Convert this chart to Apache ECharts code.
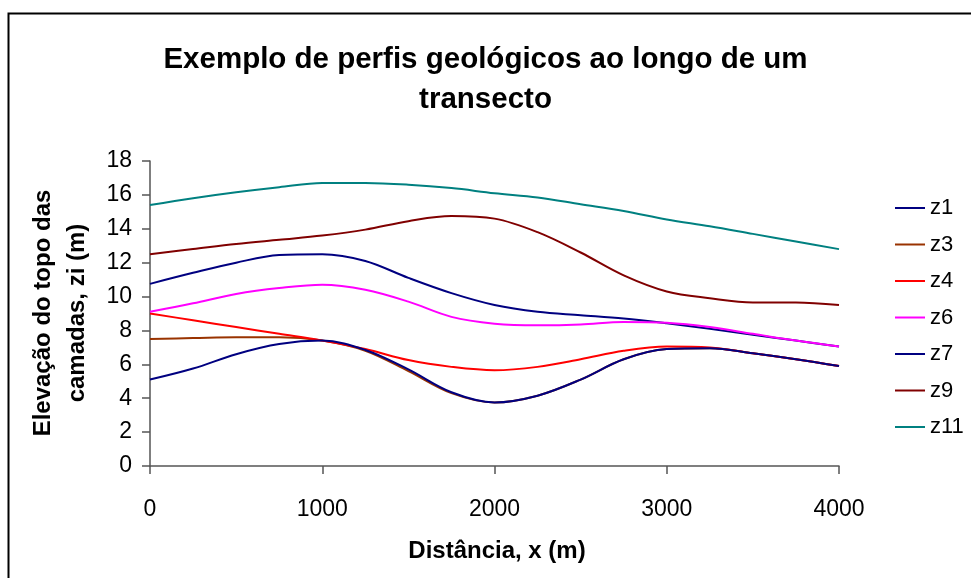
<!DOCTYPE html>
<html>
<head>
<meta charset="utf-8">
<script src="https://cdn.jsdelivr.net/npm/echarts@6/dist/echarts.min.js"></script>
<style>
  html, body { margin: 0; padding: 0; background: #fff; }
  #chart { width: 971px; height: 578px; }
</style>
</head>
<body>
<div id="chart"></div>
<script>
// Distance along the transect (m)
const distancias = [0, 250, 500, 750, 1000, 1250, 1500, 1750, 2000, 2250, 2500, 2750, 3000, 3250, 3500, 3750, 4000];

// Top elevation of each layer (m)
const z1  = [10.75, 11.4, 12.0, 12.45, 12.5, 12.1, 11.1, 10.2, 9.5, 9.1, 8.9, 8.7, 8.42, 8.1, 7.75, 7.4, 7.05];
const z3  = [7.5, 7.55, 7.6, 7.6, 7.4, 6.8, 5.6, 4.3, 3.75, 4.15, 5.1, 6.3, 6.9, 6.95, 6.65, 6.3, 5.9];
const z4  = [9.0, 8.6, 8.2, 7.8, 7.4, 6.9, 6.25, 5.85, 5.65, 5.85, 6.3, 6.8, 7.05, 7.0, 6.65, 6.3, 5.9];
const z6  = [9.1, 9.6, 10.15, 10.5, 10.7, 10.4, 9.7, 8.8, 8.4, 8.3, 8.35, 8.5, 8.45, 8.2, 7.8, 7.4, 7.05];
const z7  = [5.1, 5.75, 6.6, 7.2, 7.4, 6.85, 5.7, 4.35, 3.75, 4.15, 5.1, 6.3, 6.9, 6.95, 6.65, 6.3, 5.9];
const z9  = [12.5, 12.8, 13.1, 13.35, 13.6, 13.95, 14.45, 14.75, 14.6, 13.8, 12.6, 11.25, 10.3, 9.9, 9.65, 9.65, 9.5];
const z11 = [15.4, 15.8, 16.15, 16.45, 16.7, 16.7, 16.6, 16.4, 16.1, 15.85, 15.45, 15.05, 14.55, 14.15, 13.7, 13.25, 12.8];

const nomes  = ['z1', 'z3', 'z4', 'z6', 'z7', 'z9', 'z11'];
const camadas = [z1, z3, z4, z6, z7, z9, z11];
const cores  = ['#000080', '#993300', '#FF0000', '#FF00FF', '#000080', '#800000', '#008080'];

const xTicks = [0, 1000, 2000, 3000, 4000];
const yTicks = [0, 2, 4, 6, 8, 10, 12, 14, 16, 18];

const FONT = '"Liberation Sans", Arial, sans-serif';

const chart = echarts.init(document.getElementById('chart'), null, { renderer: 'canvas' });

const series = camadas.map((vals, i) => ({
  name: nomes[i],
  type: 'line',
  smooth: 0.35,
  showSymbol: false,
  symbol: 'none',
  data: distancias.map((d, k) => [d, vals[k]]),
  lineStyle: { color: cores[i], width: 2 },
  itemStyle: { color: cores[i] },
  emphasis: { disabled: true },
  z: 2 + i
}));

chart.setOption({
  animation: false,
  backgroundColor: '#ffffff',
  title: {
    text: 'Exemplo de perfis geológicos ao longo de um\ntransecto',
    left: 'center',
    top: 35,
    textStyle: { fontFamily: FONT, fontSize: 29.5, fontWeight: 'bold', color: '#000', lineHeight: 40 }
  },
  legend: {
    orient: 'vertical',
    left: 890,
    top: 192,
    itemWidth: 30,
    itemHeight: 2,
    itemGap: 14.5,
    icon: 'rect',
    data: nomes,
    textStyle: { fontFamily: FONT, fontSize: 22, color: '#000', lineHeight: 22, padding: [0, 0, 0, 0] }
  },
  grid: { left: 150, right: 132, top: 161, bottom: 112, containLabel: false },
  xAxis: {
    type: 'value',
    min: xTicks[0],
    max: xTicks[xTicks.length - 1],
    interval: 1000,
    axisLine: { show: true, lineStyle: { color: '#555', width: 1.5 } },
    axisTick: { show: true, inside: false, length: 8, lineStyle: { color: '#555', width: 1.5 } },
    axisLabel: { fontFamily: FONT, fontSize: 23, color: '#000', margin: 32, formatter: v => String(v) },
    splitLine: { show: false }
  },
  yAxis: {
    type: 'value',
    min: yTicks[0],
    max: yTicks[yTicks.length - 1],
    interval: 2,
    axisLine: { show: true, lineStyle: { color: '#555', width: 1.5 } },
    axisTick: { show: true, inside: false, length: 8, lineStyle: { color: '#555', width: 1.5 } },
    axisLabel: { fontFamily: FONT, fontSize: 23, color: '#000', margin: 18, formatter: v => String(v) },
    splitLine: { show: false }
  },
  graphic: [
    {
      type: 'rect',
      shape: { x: 8.5, y: 13.5, width: 1100, height: 700 },
      style: { fill: 'none', stroke: '#000', lineWidth: 2 },
      silent: true,
      z: 0
    },
    {
      type: 'text',
      x: 497, y: 551,
      style: {
        text: 'Distância, x (m)',
        fontFamily: FONT, fontSize: 24, fontWeight: 'bold', fill: '#000',
        textAlign: 'center', textVerticalAlign: 'middle'
      }
    },
    {
      type: 'text',
      x: 60, y: 313,
      rotation: Math.PI / 2,
      style: {
        text: 'Elevação do topo das\ncamadas, zi (m)',
        fontFamily: FONT, fontSize: 24, fontWeight: 'bold', fill: '#000',
        textAlign: 'center', textVerticalAlign: 'middle', lineHeight: 34
      }
    }
  ],
  series: series
});
</script>
</body>
</html>
